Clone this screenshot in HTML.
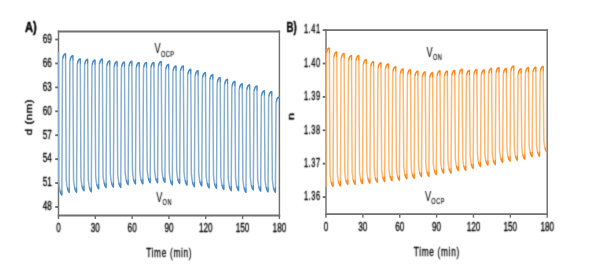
<!DOCTYPE html>
<html><head><meta charset="utf-8"><style>
html,body{margin:0;padding:0;background:#fff;width:593px;height:276px;overflow:hidden}
svg{display:block;font-family:"Liberation Sans",sans-serif;fill:#000}
text{stroke:#000;stroke-width:0.32px}
</style></head><body>
<svg width="593" height="276" viewBox="0 0 593 276">
<defs><filter id="bl" color-interpolation-filters="sRGB" x="0" y="0" width="593" height="276" filterUnits="userSpaceOnUse"><feConvolveMatrix order="3" kernelMatrix="1 4 1 4 16 4 1 4 1" divisor="36" edgeMode="duplicate" preserveAlpha="true"/></filter><filter id="bt" color-interpolation-filters="sRGB" x="0" y="0" width="593" height="276" filterUnits="userSpaceOnUse"><feConvolveMatrix order="3" kernelMatrix="0 0 0 1 2 1 0 0 0" divisor="4" edgeMode="none"/></filter></defs>
<g filter="url(#bl)"><rect width="593" height="276" fill="#fff"/>
<text transform="translate(51.80,42.80) scale(0.68,1)" text-anchor="end" font-size="12.0" font-weight="normal" >69</text>
<text transform="translate(51.80,66.73) scale(0.68,1)" text-anchor="end" font-size="12.0" font-weight="normal" >66</text>
<text transform="translate(51.80,90.66) scale(0.68,1)" text-anchor="end" font-size="12.0" font-weight="normal" >63</text>
<text transform="translate(51.80,114.59) scale(0.68,1)" text-anchor="end" font-size="12.0" font-weight="normal" >60</text>
<text transform="translate(51.80,138.51) scale(0.68,1)" text-anchor="end" font-size="12.0" font-weight="normal" >57</text>
<text transform="translate(51.80,162.44) scale(0.68,1)" text-anchor="end" font-size="12.0" font-weight="normal" >54</text>
<text transform="translate(51.80,186.37) scale(0.68,1)" text-anchor="end" font-size="12.0" font-weight="normal" >51</text>
<text transform="translate(51.80,210.30) scale(0.68,1)" text-anchor="end" font-size="12.0" font-weight="normal" >48</text>
<text transform="translate(320.60,33.40) scale(0.62,1)" text-anchor="end" font-size="12.0" font-weight="normal" letter-spacing="0.9">1.41</text>
<text transform="translate(320.60,66.80) scale(0.62,1)" text-anchor="end" font-size="12.0" font-weight="normal" letter-spacing="0.9">1.40</text>
<text transform="translate(320.60,100.20) scale(0.62,1)" text-anchor="end" font-size="12.0" font-weight="normal" letter-spacing="0.9">1.39</text>
<text transform="translate(320.60,133.60) scale(0.62,1)" text-anchor="end" font-size="12.0" font-weight="normal" letter-spacing="0.9">1.38</text>
<text transform="translate(320.60,167.00) scale(0.62,1)" text-anchor="end" font-size="12.0" font-weight="normal" letter-spacing="0.9">1.37</text>
<text transform="translate(320.60,200.40) scale(0.62,1)" text-anchor="end" font-size="12.0" font-weight="normal" letter-spacing="0.9">1.36</text>
<text transform="translate(58.50,232.30) scale(0.68,1)" text-anchor="middle" font-size="12.0" font-weight="normal" >0</text>
<text transform="translate(326.00,230.90) scale(0.68,1)" text-anchor="middle" font-size="12.0" font-weight="normal" >0</text>
<text transform="translate(95.32,232.30) scale(0.68,1)" text-anchor="middle" font-size="12.0" font-weight="normal" >30</text>
<text transform="translate(362.87,230.90) scale(0.68,1)" text-anchor="middle" font-size="12.0" font-weight="normal" >30</text>
<text transform="translate(132.13,232.30) scale(0.68,1)" text-anchor="middle" font-size="12.0" font-weight="normal" >60</text>
<text transform="translate(399.73,230.90) scale(0.68,1)" text-anchor="middle" font-size="12.0" font-weight="normal" >60</text>
<text transform="translate(168.95,232.30) scale(0.68,1)" text-anchor="middle" font-size="12.0" font-weight="normal" >90</text>
<text transform="translate(436.60,230.90) scale(0.68,1)" text-anchor="middle" font-size="12.0" font-weight="normal" >90</text>
<text transform="translate(205.77,232.30) scale(0.68,1)" text-anchor="middle" font-size="12.0" font-weight="normal" >120</text>
<text transform="translate(473.47,230.90) scale(0.68,1)" text-anchor="middle" font-size="12.0" font-weight="normal" >120</text>
<text transform="translate(242.58,232.30) scale(0.68,1)" text-anchor="middle" font-size="12.0" font-weight="normal" >150</text>
<text transform="translate(510.33,230.90) scale(0.68,1)" text-anchor="middle" font-size="12.0" font-weight="normal" >150</text>
<text transform="translate(279.40,232.30) scale(0.68,1)" text-anchor="middle" font-size="12.0" font-weight="normal" >180</text>
<text transform="translate(547.20,230.90) scale(0.68,1)" text-anchor="middle" font-size="12.0" font-weight="normal" >180</text>
<text transform="translate(169.20,257.10) scale(0.62,1)" text-anchor="middle" font-size="13.4" font-weight="normal" letter-spacing="1.1">Time (min)</text>
<text transform="translate(436.80,255.90) scale(0.62,1)" text-anchor="middle" font-size="13.4" font-weight="normal" letter-spacing="1.1">Time (min)</text>
<text transform="translate(31.8,117.0) rotate(-90) scale(0.9,0.76)" text-anchor="middle" font-size="12.6" letter-spacing="0.7" style="stroke-width:0.5px">d (nm)</text>
<text transform="translate(294.4,116.6) rotate(-90) scale(1,0.76)" text-anchor="middle" font-size="12.6" style="stroke-width:0.5px">n</text>
<text transform="translate(154.60,53.00) scale(0.66,1)" font-size="14.0" style="stroke-width:0.05px">V</text><text transform="translate(160.90,56.90) scale(0.62,1)" font-size="9.0" letter-spacing="0.9" style="stroke-width:0.15px">OCP</text>
<text transform="translate(156.20,202.20) scale(0.66,1)" font-size="14.0" style="stroke-width:0.05px">V</text><text transform="translate(162.60,204.60) scale(0.62,1)" font-size="9.0" letter-spacing="0.9" style="stroke-width:0.15px">ON</text>
<text transform="translate(426.60,56.90) scale(0.66,1)" font-size="14.0" style="stroke-width:0.05px">V</text><text transform="translate(432.90,60.20) scale(0.62,1)" font-size="9.0" letter-spacing="0.9" style="stroke-width:0.15px">ON</text>
<text transform="translate(424.90,200.70) scale(0.66,1)" font-size="14.0" style="stroke-width:0.05px">V</text><text transform="translate(431.30,203.60) scale(0.62,1)" font-size="9.0" letter-spacing="0.9" style="stroke-width:0.15px">OCP</text>
<text transform="translate(25.00,32.00) scale(0.75,1)" text-anchor="start" font-size="15" font-weight="bold" style="fill:#000;stroke:#000;stroke-width:0.5px">A)</text>
<text transform="translate(286.60,31.60) scale(0.64,1)" text-anchor="start" font-size="15" font-weight="bold" style="fill:#000;stroke:#000;stroke-width:0.5px">B)</text>
</g>
<line x1="57.775" y1="31.45" x2="280.125" y2="31.45" stroke="#707070" stroke-width="1.9"/><line x1="57.775" y1="215.45" x2="280.125" y2="215.45" stroke="#707070" stroke-width="1.9"/><line x1="58.5" y1="30.5" x2="58.5" y2="216.39999999999998" stroke="#707070" stroke-width="1.45"/><line x1="279.4" y1="30.5" x2="279.4" y2="216.39999999999998" stroke="#707070" stroke-width="1.45"/><line x1="55.2" y1="39.5" x2="58.5" y2="39.5" stroke="#707070" stroke-width="1.9"/><line x1="55.2" y1="63.42857142857143" x2="58.5" y2="63.42857142857143" stroke="#707070" stroke-width="1.9"/><line x1="55.2" y1="87.35714285714286" x2="58.5" y2="87.35714285714286" stroke="#707070" stroke-width="1.9"/><line x1="55.2" y1="111.28571428571429" x2="58.5" y2="111.28571428571429" stroke="#707070" stroke-width="1.9"/><line x1="55.2" y1="135.21428571428572" x2="58.5" y2="135.21428571428572" stroke="#707070" stroke-width="1.9"/><line x1="55.2" y1="159.14285714285714" x2="58.5" y2="159.14285714285714" stroke="#707070" stroke-width="1.9"/><line x1="55.2" y1="183.07142857142858" x2="58.5" y2="183.07142857142858" stroke="#707070" stroke-width="1.9"/><line x1="55.2" y1="207.0" x2="58.5" y2="207.0" stroke="#707070" stroke-width="1.9"/><line x1="58.5" y1="215.45" x2="58.5" y2="219.04999999999998" stroke="#707070" stroke-width="1.45"/><line x1="95.31666666666666" y1="215.45" x2="95.31666666666666" y2="219.04999999999998" stroke="#707070" stroke-width="1.45"/><line x1="132.13333333333333" y1="215.45" x2="132.13333333333333" y2="219.04999999999998" stroke="#707070" stroke-width="1.45"/><line x1="168.95" y1="215.45" x2="168.95" y2="219.04999999999998" stroke="#707070" stroke-width="1.45"/><line x1="205.76666666666665" y1="215.45" x2="205.76666666666665" y2="219.04999999999998" stroke="#707070" stroke-width="1.45"/><line x1="242.58333333333334" y1="215.45" x2="242.58333333333334" y2="219.04999999999998" stroke="#707070" stroke-width="1.45"/><line x1="279.4" y1="215.45" x2="279.4" y2="219.04999999999998" stroke="#707070" stroke-width="1.45"/>
<line x1="325.275" y1="30.1" x2="547.9250000000001" y2="30.1" stroke="#707070" stroke-width="1.9"/><line x1="325.275" y1="214.1" x2="547.9250000000001" y2="214.1" stroke="#707070" stroke-width="1.9"/><line x1="326.0" y1="29.150000000000002" x2="326.0" y2="215.04999999999998" stroke="#707070" stroke-width="1.45"/><line x1="547.2" y1="29.150000000000002" x2="547.2" y2="215.04999999999998" stroke="#707070" stroke-width="1.45"/><line x1="322.7" y1="30.1" x2="326.0" y2="30.1" stroke="#707070" stroke-width="1.9"/><line x1="322.7" y1="63.5" x2="326.0" y2="63.5" stroke="#707070" stroke-width="1.9"/><line x1="322.7" y1="96.9" x2="326.0" y2="96.9" stroke="#707070" stroke-width="1.9"/><line x1="322.7" y1="130.3" x2="326.0" y2="130.3" stroke="#707070" stroke-width="1.9"/><line x1="322.7" y1="163.7" x2="326.0" y2="163.7" stroke="#707070" stroke-width="1.9"/><line x1="322.7" y1="197.1" x2="326.0" y2="197.1" stroke="#707070" stroke-width="1.9"/><line x1="326.0" y1="214.1" x2="326.0" y2="217.7" stroke="#707070" stroke-width="1.45"/><line x1="362.8666666666667" y1="214.1" x2="362.8666666666667" y2="217.7" stroke="#707070" stroke-width="1.45"/><line x1="399.73333333333335" y1="214.1" x2="399.73333333333335" y2="217.7" stroke="#707070" stroke-width="1.45"/><line x1="436.6" y1="214.1" x2="436.6" y2="217.7" stroke="#707070" stroke-width="1.45"/><line x1="473.4666666666667" y1="214.1" x2="473.4666666666667" y2="217.7" stroke="#707070" stroke-width="1.45"/><line x1="510.33333333333337" y1="214.1" x2="510.33333333333337" y2="217.7" stroke="#707070" stroke-width="1.45"/><line x1="547.2" y1="214.1" x2="547.2" y2="217.7" stroke="#707070" stroke-width="1.45"/>
<g filter="none"><g transform="translate(58.5,0) scale(0.7,1)"><path d="M0.00,52.00 L0.44,181.90 L0.99,185.70 L1.53,188.48 L2.08,190.52 L2.63,192.00 L3.18,193.09 L3.73,193.89 L4.27,194.47 L4.82,194.90 L5.70,60.00 L6.25,57.78 L6.79,56.35 L7.34,55.44 L7.89,54.86 L8.44,54.49 L8.99,54.25 L9.53,54.10 L10.08,54.00 L10.96,179.10 L11.51,182.90 L12.05,185.68 L12.60,187.72 L13.15,189.20 L13.70,190.29 L14.24,191.09 L14.79,191.67 L15.34,192.10 L16.22,61.80 L16.76,59.58 L17.31,58.15 L17.86,57.24 L18.41,56.66 L18.96,56.29 L19.50,56.05 L20.05,55.90 L20.60,55.80 L21.48,179.10 L22.02,182.90 L22.57,185.68 L23.12,187.72 L23.67,189.20 L24.22,190.29 L24.76,191.09 L25.31,191.67 L25.86,192.10 L26.74,65.10 L27.28,62.88 L27.83,61.45 L28.38,60.54 L28.93,59.96 L29.48,59.59 L30.02,59.35 L30.57,59.20 L31.12,59.10 L32.00,177.50 L32.54,181.30 L33.09,184.08 L33.64,186.12 L34.19,187.60 L34.73,188.69 L35.28,189.49 L35.83,190.07 L36.38,190.50 L37.25,65.50 L37.80,63.28 L38.35,61.85 L38.90,60.94 L39.45,60.36 L39.99,59.99 L40.54,59.75 L41.09,59.60 L41.64,59.50 L42.51,178.70 L43.06,182.50 L43.61,185.28 L44.16,187.32 L44.71,188.80 L45.25,189.89 L45.80,190.69 L46.35,191.27 L46.90,191.70 L47.77,66.20 L48.32,63.98 L48.87,62.55 L49.42,61.64 L49.97,61.06 L50.51,60.69 L51.06,60.45 L51.61,60.30 L52.16,60.20 L53.03,175.60 L53.58,179.40 L54.13,182.18 L54.68,184.22 L55.22,185.70 L55.77,186.79 L56.32,187.59 L56.87,188.17 L57.42,188.60 L58.29,65.30 L58.84,63.08 L59.39,61.65 L59.94,60.74 L60.48,60.16 L61.03,59.79 L61.58,59.55 L62.13,59.40 L62.68,59.30 L63.55,174.30 L64.10,178.10 L64.65,180.88 L65.20,182.92 L65.74,184.40 L66.29,185.49 L66.84,186.29 L67.39,186.87 L67.94,187.30 L68.81,67.10 L69.36,64.88 L69.91,63.45 L70.46,62.54 L71.00,61.96 L71.55,61.59 L72.10,61.35 L72.65,61.20 L73.20,61.10 L74.07,173.90 L74.62,177.70 L75.17,180.48 L75.72,182.52 L76.26,184.00 L76.81,185.09 L77.36,185.89 L77.91,186.47 L78.45,186.90 L79.33,67.80 L79.88,65.58 L80.43,64.15 L80.97,63.24 L81.52,62.66 L82.07,62.29 L82.62,62.05 L83.17,61.90 L83.71,61.80 L84.59,174.30 L85.14,178.10 L85.69,180.88 L86.23,182.92 L86.78,184.40 L87.33,185.49 L87.88,186.29 L88.43,186.87 L88.97,187.30 L89.85,68.20 L90.40,65.98 L90.95,64.55 L91.49,63.64 L92.04,63.06 L92.59,62.69 L93.14,62.45 L93.69,62.30 L94.23,62.20 L95.11,171.50 L95.66,175.30 L96.21,178.08 L96.75,180.12 L97.30,181.60 L97.85,182.69 L98.40,183.49 L98.94,184.07 L99.49,184.50 L100.37,67.50 L100.92,65.28 L101.46,63.85 L102.01,62.94 L102.56,62.36 L103.11,61.99 L103.66,61.75 L104.20,61.60 L104.75,61.50 L105.63,170.70 L106.18,174.50 L106.72,177.28 L107.27,179.32 L107.82,180.80 L108.37,181.89 L108.92,182.69 L109.46,183.27 L110.01,183.70 L110.89,68.70 L111.44,66.48 L111.98,65.05 L112.53,64.14 L113.08,63.56 L113.63,63.19 L114.18,62.95 L114.72,62.80 L115.27,62.70 L116.15,170.70 L116.70,174.50 L117.24,177.28 L117.79,179.32 L118.34,180.80 L118.89,181.89 L119.44,182.69 L119.98,183.27 L120.53,183.70 L121.41,68.70 L121.96,66.48 L122.50,65.05 L123.05,64.14 L123.60,63.56 L124.15,63.19 L124.69,62.95 L125.24,62.80 L125.79,62.70 L126.67,169.50 L127.21,173.30 L127.76,176.08 L128.31,178.12 L128.86,179.60 L129.41,180.69 L129.95,181.49 L130.50,182.07 L131.05,182.50 L131.93,68.70 L132.47,66.48 L133.02,65.05 L133.57,64.14 L134.12,63.56 L134.67,63.19 L135.21,62.95 L135.76,62.80 L136.31,62.70 L137.19,169.50 L137.73,173.30 L138.28,176.08 L138.83,178.12 L139.38,179.60 L139.93,180.69 L140.47,181.49 L141.02,182.07 L141.57,182.50 L142.45,67.70 L142.99,65.48 L143.54,64.05 L144.09,63.14 L144.64,62.56 L145.18,62.19 L145.73,61.95 L146.28,61.80 L146.83,61.70 L147.70,169.10 L148.25,172.90 L148.80,175.68 L149.35,177.72 L149.90,179.20 L150.44,180.29 L150.99,181.09 L151.54,181.67 L152.09,182.10 L152.96,70.60 L153.51,68.38 L154.06,66.95 L154.61,66.04 L155.16,65.46 L155.70,65.09 L156.25,64.85 L156.80,64.70 L157.35,64.60 L158.22,171.70 L158.77,175.50 L159.32,178.28 L159.87,180.32 L160.42,181.80 L160.96,182.89 L161.51,183.69 L162.06,184.27 L162.61,184.70 L163.48,72.20 L164.03,69.98 L164.58,68.55 L165.13,67.64 L165.67,67.06 L166.22,66.69 L166.77,66.45 L167.32,66.30 L167.87,66.20 L168.74,170.30 L169.29,174.10 L169.84,176.88 L170.39,178.92 L170.93,180.40 L171.48,181.49 L172.03,182.29 L172.58,182.87 L173.13,183.30 L174.00,72.20 L174.55,69.98 L175.10,68.55 L175.65,67.64 L176.19,67.06 L176.74,66.69 L177.29,66.45 L177.84,66.30 L178.39,66.20 L179.26,171.90 L179.81,175.70 L180.36,178.48 L180.91,180.52 L181.45,182.00 L182.00,183.09 L182.55,183.89 L183.10,184.47 L183.65,184.90 L184.52,75.50 L185.07,73.28 L185.62,71.85 L186.17,70.94 L186.71,70.36 L187.26,69.99 L187.81,69.75 L188.36,69.60 L188.90,69.50 L189.78,173.50 L190.33,177.30 L190.88,180.08 L191.42,182.12 L191.97,183.60 L192.52,184.69 L193.07,185.49 L193.62,186.07 L194.16,186.50 L195.04,76.90 L195.59,74.68 L196.14,73.25 L196.68,72.34 L197.23,71.76 L197.78,71.39 L198.33,71.15 L198.88,71.00 L199.42,70.90 L200.30,172.70 L200.85,176.50 L201.40,179.28 L201.94,181.32 L202.49,182.80 L203.04,183.89 L203.59,184.69 L204.14,185.27 L204.68,185.70 L205.56,78.80 L206.11,76.58 L206.66,75.15 L207.20,74.24 L207.75,73.66 L208.30,73.29 L208.85,73.05 L209.39,72.90 L209.94,72.80 L210.82,174.70 L211.37,178.50 L211.91,181.28 L212.46,183.32 L213.01,184.80 L213.56,185.89 L214.11,186.69 L214.65,187.27 L215.20,187.70 L216.08,80.80 L216.63,78.58 L217.17,77.15 L217.72,76.24 L218.27,75.66 L218.82,75.29 L219.37,75.05 L219.91,74.90 L220.46,74.80 L221.34,175.10 L221.89,178.90 L222.43,181.68 L222.98,183.72 L223.53,185.20 L224.08,186.29 L224.63,187.09 L225.17,187.67 L225.72,188.10 L226.60,83.70 L227.15,81.48 L227.69,80.05 L228.24,79.14 L228.79,78.56 L229.34,78.19 L229.89,77.95 L230.43,77.80 L230.98,77.70 L231.86,176.30 L232.41,180.10 L232.95,182.88 L233.50,184.92 L234.05,186.40 L234.60,187.49 L235.14,188.29 L235.69,188.87 L236.24,189.30 L237.12,85.50 L237.66,83.28 L238.21,81.85 L238.76,80.94 L239.31,80.36 L239.86,79.99 L240.40,79.75 L240.95,79.60 L241.50,79.50 L242.38,177.50 L242.92,181.30 L243.47,184.08 L244.02,186.12 L244.57,187.60 L245.12,188.69 L245.66,189.49 L246.21,190.07 L246.76,190.50 L247.64,87.60 L248.18,85.38 L248.73,83.95 L249.28,83.04 L249.83,82.46 L250.38,82.09 L250.92,81.85 L251.47,81.70 L252.02,81.60 L252.90,177.40 L253.44,181.20 L253.99,183.98 L254.54,186.02 L255.09,187.50 L255.63,188.59 L256.18,189.39 L256.73,189.97 L257.28,190.40 L258.15,90.00 L258.70,87.78 L259.25,86.35 L259.80,85.44 L260.35,84.86 L260.89,84.49 L261.44,84.25 L261.99,84.10 L262.54,84.00 L263.41,179.10 L263.96,182.90 L264.51,185.68 L265.06,187.72 L265.61,189.20 L266.15,190.29 L266.70,191.09 L267.25,191.67 L267.80,192.10 L268.67,91.00 L269.22,88.78 L269.77,87.35 L270.32,86.44 L270.87,85.86 L271.41,85.49 L271.96,85.25 L272.51,85.10 L273.06,85.00 L273.93,176.70 L274.48,180.50 L275.03,183.28 L275.58,185.32 L276.12,186.80 L276.67,187.89 L277.22,188.69 L277.77,189.27 L278.32,189.70 L279.19,92.20 L279.74,89.98 L280.29,88.55 L280.84,87.64 L281.38,87.06 L281.93,86.69 L282.48,86.45 L283.03,86.30 L283.58,86.20 L284.45,177.90 L285.00,181.70 L285.55,184.48 L286.10,186.52 L286.64,188.00 L287.19,189.09 L287.74,189.89 L288.29,190.47 L288.84,190.90 L289.71,97.00 L290.26,94.78 L290.81,93.35 L291.36,92.44 L291.90,91.86 L292.45,91.49 L293.00,91.25 L293.55,91.10 L294.10,91.00 L294.97,178.70 L295.52,182.50 L296.07,185.28 L296.62,187.32 L297.16,188.80 L297.71,189.89 L298.26,190.69 L298.81,191.27 L299.35,191.70 L300.23,97.70 L300.78,95.48 L301.33,94.05 L301.87,93.14 L302.42,92.56 L302.97,92.19 L303.52,91.95 L304.07,91.80 L304.61,91.70 L305.49,179.10 L306.04,182.90 L306.59,185.68 L307.13,187.72 L307.68,189.20 L308.23,190.29 L308.78,191.09 L309.33,191.67 L309.87,192.10 L310.75,103.30 L311.30,101.08 L311.85,99.65 L312.39,98.74 L312.94,98.16 L313.49,97.79 L314.04,97.55 L314.59,97.40 L315.13,97.30 L315.57,96.00" fill="none" stroke="#86aed0" stroke-width="2.1" stroke-linejoin="round"/><path d="M2.22,190.90 L2.63,192.00 L3.18,193.09 L3.73,193.89 L4.27,194.47 L4.82,194.90 L4.85,190.90 M6.19,58.00 L6.25,57.78 L6.79,56.35 L7.34,55.44 L7.89,54.86 L8.44,54.49 L8.99,54.25 L9.53,54.10 L10.08,54.00 L10.11,58.00 M12.74,188.10 L13.15,189.20 L13.70,190.29 L14.24,191.09 L14.79,191.67 L15.34,192.10 L15.37,188.10 M16.71,59.80 L16.76,59.58 L17.31,58.15 L17.86,57.24 L18.41,56.66 L18.96,56.29 L19.50,56.05 L20.05,55.90 L20.60,55.80 L20.63,59.80 M23.26,188.10 L23.67,189.20 L24.22,190.29 L24.76,191.09 L25.31,191.67 L25.86,192.10 L25.89,188.10 M27.23,63.10 L27.28,62.88 L27.83,61.45 L28.38,60.54 L28.93,59.96 L29.48,59.59 L30.02,59.35 L30.57,59.20 L31.12,59.10 L31.15,63.10 M33.78,186.50 L34.19,187.60 L34.73,188.69 L35.28,189.49 L35.83,190.07 L36.38,190.50 L36.41,186.50 M37.75,63.50 L37.80,63.28 L38.35,61.85 L38.90,60.94 L39.45,60.36 L39.99,59.99 L40.54,59.75 L41.09,59.60 L41.64,59.50 L41.67,63.50 M44.30,187.70 L44.71,188.80 L45.25,189.89 L45.80,190.69 L46.35,191.27 L46.90,191.70 L46.93,187.70 M48.27,64.20 L48.32,63.98 L48.87,62.55 L49.42,61.64 L49.97,61.06 L50.51,60.69 L51.06,60.45 L51.61,60.30 L52.16,60.20 L52.19,64.20 M54.82,184.60 L55.22,185.70 L55.77,186.79 L56.32,187.59 L56.87,188.17 L57.42,188.60 L57.44,184.60 M58.79,63.30 L58.84,63.08 L59.39,61.65 L59.94,60.74 L60.48,60.16 L61.03,59.79 L61.58,59.55 L62.13,59.40 L62.68,59.30 L62.71,63.30 M65.34,183.30 L65.74,184.40 L66.29,185.49 L66.84,186.29 L67.39,186.87 L67.94,187.30 L67.96,183.30 M69.31,65.10 L69.36,64.88 L69.91,63.45 L70.46,62.54 L71.00,61.96 L71.55,61.59 L72.10,61.35 L72.65,61.20 L73.20,61.10 L73.23,65.10 M75.86,182.90 L76.26,184.00 L76.81,185.09 L77.36,185.89 L77.91,186.47 L78.45,186.90 L78.48,182.90 M79.82,65.80 L79.88,65.58 L80.43,64.15 L80.97,63.24 L81.52,62.66 L82.07,62.29 L82.62,62.05 L83.17,61.90 L83.71,61.80 L83.75,65.80 M86.38,183.30 L86.78,184.40 L87.33,185.49 L87.88,186.29 L88.43,186.87 L88.97,187.30 L89.00,183.30 M90.34,66.20 L90.40,65.98 L90.95,64.55 L91.49,63.64 L92.04,63.06 L92.59,62.69 L93.14,62.45 L93.69,62.30 L94.23,62.20 L94.27,66.20 M96.89,180.50 L97.30,181.60 L97.85,182.69 L98.40,183.49 L98.94,184.07 L99.49,184.50 L99.52,180.50 M100.86,65.50 L100.92,65.28 L101.46,63.85 L102.01,62.94 L102.56,62.36 L103.11,61.99 L103.66,61.75 L104.20,61.60 L104.75,61.50 L104.78,65.50 M107.41,179.70 L107.82,180.80 L108.37,181.89 L108.92,182.69 L109.46,183.27 L110.01,183.70 L110.04,179.70 M111.38,66.70 L111.44,66.48 L111.98,65.05 L112.53,64.14 L113.08,63.56 L113.63,63.19 L114.18,62.95 L114.72,62.80 L115.27,62.70 L115.30,66.70 M117.93,179.70 L118.34,180.80 L118.89,181.89 L119.44,182.69 L119.98,183.27 L120.53,183.70 L120.56,179.70 M121.90,66.70 L121.96,66.48 L122.50,65.05 L123.05,64.14 L123.60,63.56 L124.15,63.19 L124.69,62.95 L125.24,62.80 L125.79,62.70 L125.82,66.70 M128.45,178.50 L128.86,179.60 L129.41,180.69 L129.95,181.49 L130.50,182.07 L131.05,182.50 L131.08,178.50 M132.42,66.70 L132.47,66.48 L133.02,65.05 L133.57,64.14 L134.12,63.56 L134.67,63.19 L135.21,62.95 L135.76,62.80 L136.31,62.70 L136.34,66.70 M138.97,178.50 L139.38,179.60 L139.93,180.69 L140.47,181.49 L141.02,182.07 L141.57,182.50 L141.60,178.50 M142.94,65.70 L142.99,65.48 L143.54,64.05 L144.09,63.14 L144.64,62.56 L145.18,62.19 L145.73,61.95 L146.28,61.80 L146.83,61.70 L146.86,65.70 M149.49,178.10 L149.90,179.20 L150.44,180.29 L150.99,181.09 L151.54,181.67 L152.09,182.10 L152.12,178.10 M153.46,68.60 L153.51,68.38 L154.06,66.95 L154.61,66.04 L155.16,65.46 L155.70,65.09 L156.25,64.85 L156.80,64.70 L157.35,64.60 L157.38,68.60 M160.01,180.70 L160.42,181.80 L160.96,182.89 L161.51,183.69 L162.06,184.27 L162.61,184.70 L162.64,180.70 M163.98,70.20 L164.03,69.98 L164.58,68.55 L165.13,67.64 L165.67,67.06 L166.22,66.69 L166.77,66.45 L167.32,66.30 L167.87,66.20 L167.90,70.20 M170.53,179.30 L170.93,180.40 L171.48,181.49 L172.03,182.29 L172.58,182.87 L173.13,183.30 L173.16,179.30 M174.50,70.20 L174.55,69.98 L175.10,68.55 L175.65,67.64 L176.19,67.06 L176.74,66.69 L177.29,66.45 L177.84,66.30 L178.39,66.20 L178.42,70.20 M181.05,180.90 L181.45,182.00 L182.00,183.09 L182.55,183.89 L183.10,184.47 L183.65,184.90 L183.68,180.90 M185.01,73.50 L185.07,73.28 L185.62,71.85 L186.17,70.94 L186.71,70.36 L187.26,69.99 L187.81,69.75 L188.36,69.60 L188.90,69.50 L188.94,73.50 M191.57,182.50 L191.97,183.60 L192.52,184.69 L193.07,185.49 L193.62,186.07 L194.16,186.50 L194.20,182.50 M195.53,74.90 L195.59,74.68 L196.14,73.25 L196.68,72.34 L197.23,71.76 L197.78,71.39 L198.33,71.15 L198.88,71.00 L199.42,70.90 L199.46,74.90 M202.08,181.70 L202.49,182.80 L203.04,183.89 L203.59,184.69 L204.14,185.27 L204.68,185.70 L204.72,181.70 M206.05,76.80 L206.11,76.58 L206.66,75.15 L207.20,74.24 L207.75,73.66 L208.30,73.29 L208.85,73.05 L209.39,72.90 L209.94,72.80 L209.98,76.80 M212.60,183.70 L213.01,184.80 L213.56,185.89 L214.11,186.69 L214.65,187.27 L215.20,187.70 L215.23,183.70 M216.57,78.80 L216.63,78.58 L217.17,77.15 L217.72,76.24 L218.27,75.66 L218.82,75.29 L219.37,75.05 L219.91,74.90 L220.46,74.80 L220.50,78.80 M223.12,184.10 L223.53,185.20 L224.08,186.29 L224.63,187.09 L225.17,187.67 L225.72,188.10 L225.75,184.10 M227.09,81.70 L227.15,81.48 L227.69,80.05 L228.24,79.14 L228.79,78.56 L229.34,78.19 L229.89,77.95 L230.43,77.80 L230.98,77.70 L231.02,81.70 M233.64,185.30 L234.05,186.40 L234.60,187.49 L235.14,188.29 L235.69,188.87 L236.24,189.30 L236.27,185.30 M237.61,83.50 L237.66,83.28 L238.21,81.85 L238.76,80.94 L239.31,80.36 L239.86,79.99 L240.40,79.75 L240.95,79.60 L241.50,79.50 L241.54,83.50 M244.16,186.50 L244.57,187.60 L245.12,188.69 L245.66,189.49 L246.21,190.07 L246.76,190.50 L246.79,186.50 M248.13,85.60 L248.18,85.38 L248.73,83.95 L249.28,83.04 L249.83,82.46 L250.38,82.09 L250.92,81.85 L251.47,81.70 L252.02,81.60 L252.06,85.60 M254.68,186.40 L255.09,187.50 L255.63,188.59 L256.18,189.39 L256.73,189.97 L257.28,190.40 L257.31,186.40 M258.65,88.00 L258.70,87.78 L259.25,86.35 L259.80,85.44 L260.35,84.86 L260.89,84.49 L261.44,84.25 L261.99,84.10 L262.54,84.00 L262.57,88.00 M265.20,188.10 L265.61,189.20 L266.15,190.29 L266.70,191.09 L267.25,191.67 L267.80,192.10 L267.83,188.10 M269.17,89.00 L269.22,88.78 L269.77,87.35 L270.32,86.44 L270.87,85.86 L271.41,85.49 L271.96,85.25 L272.51,85.10 L273.06,85.00 L273.10,89.00 M275.72,185.70 L276.12,186.80 L276.67,187.89 L277.22,188.69 L277.77,189.27 L278.32,189.70 L278.35,185.70 M279.69,90.20 L279.74,89.98 L280.29,88.55 L280.84,87.64 L281.38,87.06 L281.93,86.69 L282.48,86.45 L283.03,86.30 L283.58,86.20 L283.61,90.20 M286.24,186.90 L286.64,188.00 L287.19,189.09 L287.74,189.89 L288.29,190.47 L288.84,190.90 L288.87,186.90 M290.21,95.00 L290.26,94.78 L290.81,93.35 L291.36,92.44 L291.90,91.86 L292.45,91.49 L293.00,91.25 L293.55,91.10 L294.10,91.00 L294.14,95.00 M296.76,187.70 L297.16,188.80 L297.71,189.89 L298.26,190.69 L298.81,191.27 L299.35,191.70 L299.39,187.70 M300.72,95.70 L300.78,95.48 L301.33,94.05 L301.87,93.14 L302.42,92.56 L302.97,92.19 L303.52,91.95 L304.07,91.80 L304.61,91.70 L304.65,95.70 M307.28,188.10 L307.68,189.20 L308.23,190.29 L308.78,191.09 L309.33,191.67 L309.87,192.10 L309.91,188.10 M311.24,101.30 L311.30,101.08 L311.85,99.65 L312.39,98.74 L312.94,98.16 L313.49,97.79 L314.04,97.55 L314.59,97.40 L315.13,97.30 L315.57,96.00" fill="none" stroke="#3f86c4" stroke-width="1.35" stroke-linejoin="round" stroke-linecap="round"/></g>
<g transform="translate(326,0) scale(0.7,1)"><path d="M0.00,187.00 L0.44,54.20 L0.99,51.98 L1.54,50.55 L2.08,49.64 L2.63,49.06 L3.18,48.69 L3.73,48.45 L4.28,48.30 L4.83,48.20 L5.71,174.10 L6.25,177.61 L6.80,180.18 L7.35,182.05 L7.90,183.43 L8.45,184.43 L9.00,185.17 L9.55,185.71 L10.09,186.10 L10.97,58.20 L11.52,55.98 L12.07,54.55 L12.62,53.64 L13.17,53.06 L13.72,52.69 L14.26,52.45 L14.81,52.30 L15.36,52.20 L16.24,173.70 L16.79,177.21 L17.34,179.78 L17.88,181.65 L18.43,183.03 L18.98,184.03 L19.53,184.77 L20.08,185.31 L20.63,185.70 L21.51,59.70 L22.05,57.48 L22.60,56.05 L23.15,55.14 L23.70,54.56 L24.25,54.19 L24.80,53.95 L25.35,53.80 L25.89,53.70 L26.77,172.10 L27.32,175.61 L27.87,178.18 L28.42,180.05 L28.97,181.43 L29.52,182.43 L30.06,183.17 L30.61,183.71 L31.16,184.10 L32.04,61.70 L32.59,59.48 L33.14,58.05 L33.68,57.14 L34.23,56.56 L34.78,56.19 L35.33,55.95 L35.88,55.80 L36.43,55.70 L37.31,172.10 L37.85,175.61 L38.40,178.18 L38.95,180.05 L39.50,181.43 L40.05,182.43 L40.60,183.17 L41.15,183.71 L41.69,184.10 L42.57,61.70 L43.12,59.48 L43.67,58.05 L44.22,57.14 L44.77,56.56 L45.32,56.19 L45.86,55.95 L46.41,55.80 L46.96,55.70 L47.84,171.50 L48.39,175.01 L48.94,177.58 L49.48,179.45 L50.03,180.83 L50.58,181.83 L51.13,182.57 L51.68,183.11 L52.23,183.50 L53.11,65.80 L53.65,63.58 L54.20,62.15 L54.75,61.24 L55.30,60.66 L55.85,60.29 L56.40,60.05 L56.95,59.90 L57.49,59.80 L58.37,170.90 L58.92,174.41 L59.47,176.98 L60.02,178.85 L60.57,180.23 L61.12,181.23 L61.66,181.97 L62.21,182.51 L62.76,182.90 L63.64,67.80 L64.19,65.58 L64.74,64.15 L65.28,63.24 L65.83,62.66 L66.38,62.29 L66.93,62.05 L67.48,61.90 L68.03,61.80 L68.91,170.10 L69.45,173.61 L70.00,176.18 L70.55,178.05 L71.10,179.43 L71.65,180.43 L72.20,181.17 L72.75,181.71 L73.29,182.10 L74.17,69.00 L74.72,66.78 L75.27,65.35 L75.82,64.44 L76.37,63.86 L76.92,63.49 L77.46,63.25 L78.01,63.10 L78.56,63.00 L79.44,169.30 L79.99,172.81 L80.54,175.38 L81.08,177.25 L81.63,178.63 L82.18,179.63 L82.73,180.37 L83.28,180.91 L83.83,181.30 L84.71,70.10 L85.25,67.88 L85.80,66.45 L86.35,65.54 L86.90,64.96 L87.45,64.59 L88.00,64.35 L88.55,64.20 L89.09,64.10 L89.97,168.50 L90.52,172.01 L91.07,174.58 L91.62,176.45 L92.17,177.83 L92.72,178.83 L93.26,179.57 L93.81,180.11 L94.36,180.50 L95.24,72.90 L95.79,70.68 L96.34,69.25 L96.88,68.34 L97.43,67.76 L97.98,67.39 L98.53,67.15 L99.08,67.00 L99.63,66.90 L100.51,168.10 L101.05,171.61 L101.60,174.18 L102.15,176.05 L102.70,177.43 L103.25,178.43 L103.80,179.17 L104.35,179.71 L104.89,180.10 L105.77,75.10 L106.32,72.88 L106.87,71.45 L107.42,70.54 L107.97,69.96 L108.52,69.59 L109.06,69.35 L109.61,69.20 L110.16,69.10 L111.04,166.50 L111.59,170.01 L112.14,172.58 L112.68,174.45 L113.23,175.83 L113.78,176.83 L114.33,177.57 L114.88,178.11 L115.43,178.50 L116.31,75.80 L116.85,73.58 L117.40,72.15 L117.95,71.24 L118.50,70.66 L119.05,70.29 L119.60,70.05 L120.15,69.90 L120.69,69.80 L121.57,166.10 L122.12,169.61 L122.67,172.18 L123.22,174.05 L123.77,175.43 L124.32,176.43 L124.86,177.17 L125.41,177.71 L125.96,178.10 L126.84,77.30 L127.39,75.08 L127.94,73.65 L128.48,72.74 L129.03,72.16 L129.58,71.79 L130.13,71.55 L130.68,71.40 L131.23,71.30 L132.11,164.50 L132.65,168.01 L133.20,170.58 L133.75,172.45 L134.30,173.83 L134.85,174.83 L135.40,175.57 L135.95,176.11 L136.49,176.50 L137.37,78.10 L137.92,75.88 L138.47,74.45 L139.02,73.54 L139.57,72.96 L140.12,72.59 L140.66,72.35 L141.21,72.20 L141.76,72.10 L142.64,164.10 L143.19,167.61 L143.74,170.18 L144.28,172.05 L144.83,173.43 L145.38,174.43 L145.93,175.17 L146.48,175.71 L147.03,176.10 L147.91,78.80 L148.45,76.58 L149.00,75.15 L149.55,74.24 L150.10,73.66 L150.65,73.29 L151.20,73.05 L151.75,72.90 L152.29,72.80 L153.17,162.50 L153.72,166.01 L154.27,168.58 L154.82,170.45 L155.37,171.83 L155.92,172.83 L156.46,173.57 L157.01,174.11 L157.56,174.50 L158.44,77.00 L158.99,74.78 L159.54,73.35 L160.08,72.44 L160.63,71.86 L161.18,71.49 L161.73,71.25 L162.28,71.10 L162.83,71.00 L163.71,160.90 L164.25,164.41 L164.80,166.98 L165.35,168.85 L165.90,170.23 L166.45,171.23 L167.00,171.97 L167.55,172.51 L168.09,172.90 L168.97,77.30 L169.52,75.08 L170.07,73.65 L170.62,72.74 L171.17,72.16 L171.72,71.79 L172.26,71.55 L172.81,71.40 L173.36,71.30 L174.24,160.90 L174.79,164.41 L175.34,166.98 L175.88,168.85 L176.43,170.23 L176.98,171.23 L177.53,171.97 L178.08,172.51 L178.63,172.90 L179.51,76.60 L180.05,74.38 L180.60,72.95 L181.15,72.04 L181.70,71.46 L182.25,71.09 L182.80,70.85 L183.35,70.70 L183.89,70.60 L184.77,158.50 L185.32,162.01 L185.87,164.58 L186.42,166.45 L186.97,167.83 L187.52,168.83 L188.06,169.57 L188.61,170.11 L189.16,170.50 L190.04,75.40 L190.59,73.18 L191.14,71.75 L191.68,70.84 L192.23,70.26 L192.78,69.89 L193.33,69.65 L193.88,69.50 L194.43,69.40 L195.31,158.10 L195.85,161.61 L196.40,164.18 L196.95,166.05 L197.50,167.43 L198.05,168.43 L198.60,169.17 L199.15,169.71 L199.69,170.10 L200.57,76.60 L201.12,74.38 L201.67,72.95 L202.22,72.04 L202.77,71.46 L203.32,71.09 L203.86,70.85 L204.41,70.70 L204.96,70.60 L205.84,156.20 L206.39,159.71 L206.94,162.28 L207.48,164.15 L208.03,165.53 L208.58,166.53 L209.13,167.27 L209.68,167.81 L210.23,168.20 L211.11,75.70 L211.65,73.48 L212.20,72.05 L212.75,71.14 L213.30,70.56 L213.85,70.19 L214.40,69.95 L214.95,69.80 L215.49,69.70 L216.37,154.50 L216.92,158.01 L217.47,160.58 L218.02,162.45 L218.57,163.83 L219.12,164.83 L219.66,165.57 L220.21,166.11 L220.76,166.50 L221.64,76.10 L222.19,73.88 L222.74,72.45 L223.28,71.54 L223.83,70.96 L224.38,70.59 L224.93,70.35 L225.48,70.20 L226.03,70.10 L226.91,152.90 L227.45,156.41 L228.00,158.98 L228.55,160.85 L229.10,162.23 L229.65,163.23 L230.20,163.97 L230.75,164.51 L231.29,164.90 L232.17,74.60 L232.72,72.38 L233.27,70.95 L233.82,70.04 L234.37,69.46 L234.92,69.09 L235.46,68.85 L236.01,68.70 L236.56,68.60 L237.44,152.50 L237.99,156.01 L238.54,158.58 L239.08,160.45 L239.63,161.83 L240.18,162.83 L240.73,163.57 L241.28,164.11 L241.83,164.50 L242.71,73.80 L243.25,71.58 L243.80,70.15 L244.35,69.24 L244.90,68.66 L245.45,68.29 L246.00,68.05 L246.55,67.90 L247.09,67.80 L247.97,150.10 L248.52,153.61 L249.07,156.18 L249.62,158.05 L250.17,159.43 L250.72,160.43 L251.26,161.17 L251.81,161.71 L252.36,162.10 L253.24,74.60 L253.79,72.38 L254.34,70.95 L254.88,70.04 L255.43,69.46 L255.98,69.09 L256.53,68.85 L257.08,68.70 L257.63,68.60 L258.51,148.90 L259.05,152.41 L259.60,154.98 L260.15,156.85 L260.70,158.23 L261.25,159.23 L261.80,159.97 L262.35,160.51 L262.89,160.90 L263.77,72.20 L264.32,69.98 L264.87,68.55 L265.42,67.64 L265.97,67.06 L266.52,66.69 L267.06,66.45 L267.61,66.30 L268.16,66.20 L269.04,148.10 L269.59,151.61 L270.14,154.18 L270.68,156.05 L271.23,157.43 L271.78,158.43 L272.33,159.17 L272.88,159.71 L273.43,160.10 L274.31,75.00 L274.85,72.78 L275.40,71.35 L275.95,70.44 L276.50,69.86 L277.05,69.49 L277.60,69.25 L278.15,69.10 L278.69,69.00 L279.57,146.90 L280.12,150.41 L280.67,152.98 L281.22,154.85 L281.77,156.23 L282.32,157.23 L282.86,157.97 L283.41,158.51 L283.96,158.90 L284.84,73.80 L285.39,71.58 L285.94,70.15 L286.48,69.24 L287.03,68.66 L287.58,68.29 L288.13,68.05 L288.68,67.90 L289.23,67.80 L290.11,144.50 L290.65,148.01 L291.20,150.58 L291.75,152.45 L292.30,153.83 L292.85,154.83 L293.40,155.57 L293.95,156.11 L294.49,156.50 L295.37,73.40 L295.92,71.18 L296.47,69.75 L297.02,68.84 L297.57,68.26 L298.12,67.89 L298.66,67.65 L299.21,67.50 L299.76,67.40 L300.64,144.10 L301.19,147.61 L301.74,150.18 L302.28,152.05 L302.83,153.43 L303.38,154.43 L303.93,155.17 L304.48,155.71 L305.03,156.10 L305.91,72.60 L306.45,70.38 L307.00,68.95 L307.55,68.04 L308.10,67.46 L308.65,67.09 L309.20,66.85 L309.75,66.70 L310.29,66.60 L311.17,139.90 L311.72,143.41 L312.27,145.98 L312.82,147.85 L313.37,149.23 L313.92,150.23 L314.46,150.97 L315.01,151.51 L315.56,151.90 L316.00,152.00" fill="none" stroke="#ffae5e" stroke-width="2.1" stroke-linejoin="round" opacity="0.9"/><path d="M0.93,52.20 L0.99,51.98 L1.54,50.55 L2.08,49.64 L2.63,49.06 L3.18,48.69 L3.73,48.45 L4.28,48.30 L4.83,48.20 L4.86,52.20 M7.37,182.10 L7.90,183.43 L8.45,184.43 L9.00,185.17 L9.55,185.71 L10.09,186.10 L10.12,182.10 M11.47,56.20 L11.52,55.98 L12.07,54.55 L12.62,53.64 L13.17,53.06 L13.72,52.69 L14.26,52.45 L14.81,52.30 L15.36,52.20 L15.39,56.20 M17.90,181.70 L18.43,183.03 L18.98,184.03 L19.53,184.77 L20.08,185.31 L20.63,185.70 L20.66,181.70 M22.00,57.70 L22.05,57.48 L22.60,56.05 L23.15,55.14 L23.70,54.56 L24.25,54.19 L24.80,53.95 L25.35,53.80 L25.89,53.70 L25.92,57.70 M28.44,180.10 L28.97,181.43 L29.52,182.43 L30.06,183.17 L30.61,183.71 L31.16,184.10 L31.19,180.10 M32.53,59.70 L32.59,59.48 L33.14,58.05 L33.68,57.14 L34.23,56.56 L34.78,56.19 L35.33,55.95 L35.88,55.80 L36.43,55.70 L36.46,59.70 M38.97,180.10 L39.50,181.43 L40.05,182.43 L40.60,183.17 L41.15,183.71 L41.69,184.10 L41.72,180.10 M43.07,59.70 L43.12,59.48 L43.67,58.05 L44.22,57.14 L44.77,56.56 L45.32,56.19 L45.86,55.95 L46.41,55.80 L46.96,55.70 L46.99,59.70 M49.50,179.50 L50.03,180.83 L50.58,181.83 L51.13,182.57 L51.68,183.11 L52.23,183.50 L52.26,179.50 M53.60,63.80 L53.65,63.58 L54.20,62.15 L54.75,61.24 L55.30,60.66 L55.85,60.29 L56.40,60.05 L56.95,59.90 L57.49,59.80 L57.53,63.80 M60.04,178.90 L60.57,180.23 L61.12,181.23 L61.66,181.97 L62.21,182.51 L62.76,182.90 L62.79,178.90 M64.13,65.80 L64.19,65.58 L64.74,64.15 L65.28,63.24 L65.83,62.66 L66.38,62.29 L66.93,62.05 L67.48,61.90 L68.03,61.80 L68.06,65.80 M70.57,178.10 L71.10,179.43 L71.65,180.43 L72.20,181.17 L72.75,181.71 L73.29,182.10 L73.33,178.10 M74.67,67.00 L74.72,66.78 L75.27,65.35 L75.82,64.44 L76.37,63.86 L76.92,63.49 L77.46,63.25 L78.01,63.10 L78.56,63.00 L78.59,67.00 M81.10,177.30 L81.63,178.63 L82.18,179.63 L82.73,180.37 L83.28,180.91 L83.83,181.30 L83.86,177.30 M85.20,68.10 L85.25,67.88 L85.80,66.45 L86.35,65.54 L86.90,64.96 L87.45,64.59 L88.00,64.35 L88.55,64.20 L89.09,64.10 L89.13,68.10 M91.64,176.50 L92.17,177.83 L92.72,178.83 L93.26,179.57 L93.81,180.11 L94.36,180.50 L94.39,176.50 M95.73,70.90 L95.79,70.68 L96.34,69.25 L96.88,68.34 L97.43,67.76 L97.98,67.39 L98.53,67.15 L99.08,67.00 L99.63,66.90 L99.66,70.90 M102.17,176.10 L102.70,177.43 L103.25,178.43 L103.80,179.17 L104.35,179.71 L104.89,180.10 L104.93,176.10 M106.27,73.10 L106.32,72.88 L106.87,71.45 L107.42,70.54 L107.97,69.96 L108.52,69.59 L109.06,69.35 L109.61,69.20 L110.16,69.10 L110.20,73.10 M112.70,174.50 L113.23,175.83 L113.78,176.83 L114.33,177.57 L114.88,178.11 L115.43,178.50 L115.46,174.50 M116.80,73.80 L116.85,73.58 L117.40,72.15 L117.95,71.24 L118.50,70.66 L119.05,70.29 L119.60,70.05 L120.15,69.90 L120.69,69.80 L120.73,73.80 M123.24,174.10 L123.77,175.43 L124.32,176.43 L124.86,177.17 L125.41,177.71 L125.96,178.10 L126.00,174.10 M127.33,75.30 L127.39,75.08 L127.94,73.65 L128.48,72.74 L129.03,72.16 L129.58,71.79 L130.13,71.55 L130.68,71.40 L131.23,71.30 L131.27,75.30 M133.77,172.50 L134.30,173.83 L134.85,174.83 L135.40,175.57 L135.95,176.11 L136.49,176.50 L136.53,172.50 M137.87,76.10 L137.92,75.88 L138.47,74.45 L139.02,73.54 L139.57,72.96 L140.12,72.59 L140.66,72.35 L141.21,72.20 L141.76,72.10 L141.80,76.10 M144.30,172.10 L144.83,173.43 L145.38,174.43 L145.93,175.17 L146.48,175.71 L147.03,176.10 L147.06,172.10 M148.40,76.80 L148.45,76.58 L149.00,75.15 L149.55,74.24 L150.10,73.66 L150.65,73.29 L151.20,73.05 L151.75,72.90 L152.29,72.80 L152.33,76.80 M154.84,170.50 L155.37,171.83 L155.92,172.83 L156.46,173.57 L157.01,174.11 L157.56,174.50 L157.60,170.50 M158.93,75.00 L158.99,74.78 L159.54,73.35 L160.08,72.44 L160.63,71.86 L161.18,71.49 L161.73,71.25 L162.28,71.10 L162.83,71.00 L162.87,75.00 M165.37,168.90 L165.90,170.23 L166.45,171.23 L167.00,171.97 L167.55,172.51 L168.09,172.90 L168.13,168.90 M169.47,75.30 L169.52,75.08 L170.07,73.65 L170.62,72.74 L171.17,72.16 L171.72,71.79 L172.26,71.55 L172.81,71.40 L173.36,71.30 L173.40,75.30 M175.90,168.90 L176.43,170.23 L176.98,171.23 L177.53,171.97 L178.08,172.51 L178.63,172.90 L178.66,168.90 M180.00,74.60 L180.05,74.38 L180.60,72.95 L181.15,72.04 L181.70,71.46 L182.25,71.09 L182.80,70.85 L183.35,70.70 L183.89,70.60 L183.93,74.60 M186.44,166.50 L186.97,167.83 L187.52,168.83 L188.06,169.57 L188.61,170.11 L189.16,170.50 L189.20,166.50 M190.53,73.40 L190.59,73.18 L191.14,71.75 L191.68,70.84 L192.23,70.26 L192.78,69.89 L193.33,69.65 L193.88,69.50 L194.43,69.40 L194.47,73.40 M196.97,166.10 L197.50,167.43 L198.05,168.43 L198.60,169.17 L199.15,169.71 L199.69,170.10 L199.73,166.10 M201.07,74.60 L201.12,74.38 L201.67,72.95 L202.22,72.04 L202.77,71.46 L203.32,71.09 L203.86,70.85 L204.41,70.70 L204.96,70.60 L205.00,74.60 M207.50,164.20 L208.03,165.53 L208.58,166.53 L209.13,167.27 L209.68,167.81 L210.23,168.20 L210.27,164.20 M211.60,73.70 L211.65,73.48 L212.20,72.05 L212.75,71.14 L213.30,70.56 L213.85,70.19 L214.40,69.95 L214.95,69.80 L215.49,69.70 L215.54,73.70 M218.04,162.50 L218.57,163.83 L219.12,164.83 L219.66,165.57 L220.21,166.11 L220.76,166.50 L220.80,162.50 M222.13,74.10 L222.19,73.88 L222.74,72.45 L223.28,71.54 L223.83,70.96 L224.38,70.59 L224.93,70.35 L225.48,70.20 L226.03,70.10 L226.07,74.10 M228.57,160.90 L229.10,162.23 L229.65,163.23 L230.20,163.97 L230.75,164.51 L231.29,164.90 L231.33,160.90 M232.67,72.60 L232.72,72.38 L233.27,70.95 L233.82,70.04 L234.37,69.46 L234.92,69.09 L235.46,68.85 L236.01,68.70 L236.56,68.60 L236.60,72.60 M239.10,160.50 L239.63,161.83 L240.18,162.83 L240.73,163.57 L241.28,164.11 L241.83,164.50 L241.87,160.50 M243.20,71.80 L243.25,71.58 L243.80,70.15 L244.35,69.24 L244.90,68.66 L245.45,68.29 L246.00,68.05 L246.55,67.90 L247.09,67.80 L247.14,71.80 M249.64,158.10 L250.17,159.43 L250.72,160.43 L251.26,161.17 L251.81,161.71 L252.36,162.10 L252.40,158.10 M253.73,72.60 L253.79,72.38 L254.34,70.95 L254.88,70.04 L255.43,69.46 L255.98,69.09 L256.53,68.85 L257.08,68.70 L257.63,68.60 L257.67,72.60 M260.17,156.90 L260.70,158.23 L261.25,159.23 L261.80,159.97 L262.35,160.51 L262.89,160.90 L262.93,156.90 M264.27,70.20 L264.32,69.98 L264.87,68.55 L265.42,67.64 L265.97,67.06 L266.52,66.69 L267.06,66.45 L267.61,66.30 L268.16,66.20 L268.20,70.20 M270.70,156.10 L271.23,157.43 L271.78,158.43 L272.33,159.17 L272.88,159.71 L273.43,160.10 L273.47,156.10 M274.80,73.00 L274.85,72.78 L275.40,71.35 L275.95,70.44 L276.50,69.86 L277.05,69.49 L277.60,69.25 L278.15,69.10 L278.69,69.00 L278.74,73.00 M281.24,154.90 L281.77,156.23 L282.32,157.23 L282.86,157.97 L283.41,158.51 L283.96,158.90 L284.00,154.90 M285.33,71.80 L285.39,71.58 L285.94,70.15 L286.48,69.24 L287.03,68.66 L287.58,68.29 L288.13,68.05 L288.68,67.90 L289.23,67.80 L289.27,71.80 M291.77,152.50 L292.30,153.83 L292.85,154.83 L293.40,155.57 L293.95,156.11 L294.49,156.50 L294.54,152.50 M295.87,71.40 L295.92,71.18 L296.47,69.75 L297.02,68.84 L297.57,68.26 L298.12,67.89 L298.66,67.65 L299.21,67.50 L299.76,67.40 L299.81,71.40 M302.30,152.10 L302.83,153.43 L303.38,154.43 L303.93,155.17 L304.48,155.71 L305.03,156.10 L305.07,152.10 M306.40,70.60 L306.45,70.38 L307.00,68.95 L307.55,68.04 L308.10,67.46 L308.65,67.09 L309.20,66.85 L309.75,66.70 L310.29,66.60 L310.34,70.60 M312.84,147.90 L313.37,149.23 L313.92,150.23 L314.46,150.97 L315.01,151.51 L315.56,151.90 L316.00,152.00" fill="none" stroke="#ff800e" stroke-width="1.35" stroke-linejoin="round" stroke-linecap="round"/></g></g>
</svg>
</body></html>
